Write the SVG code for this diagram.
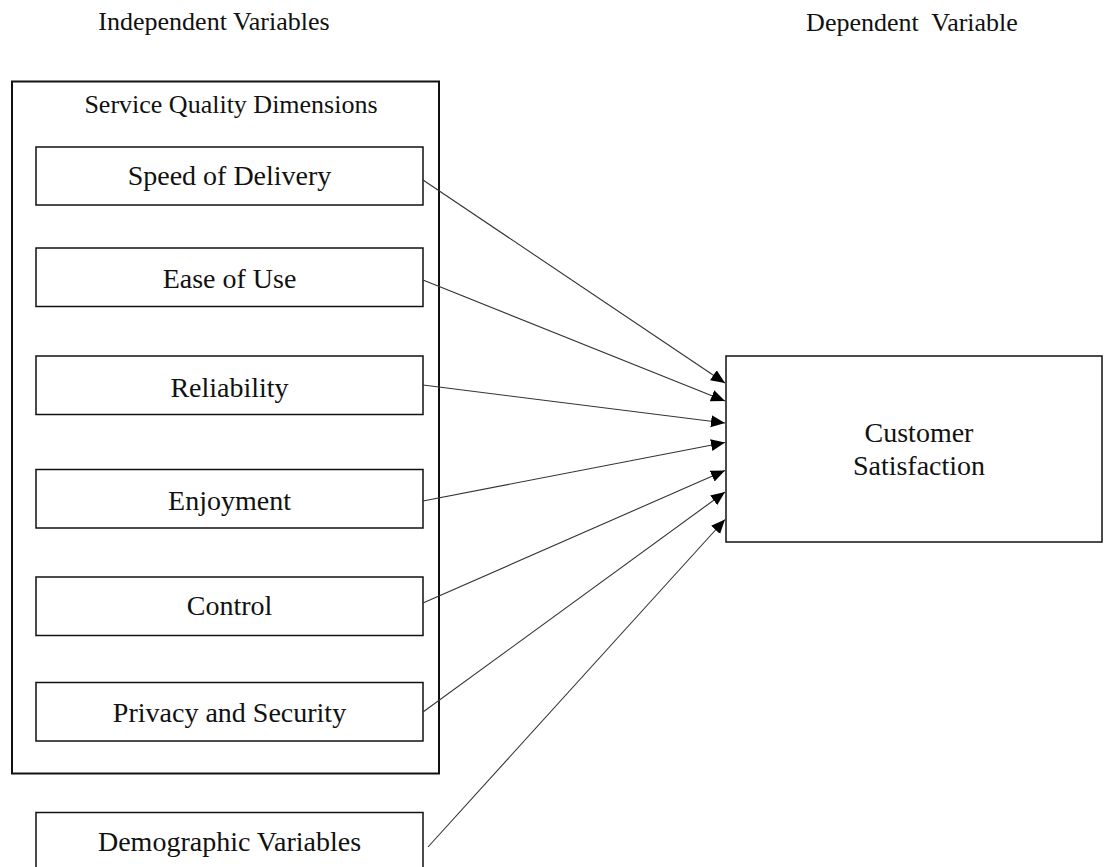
<svg xmlns="http://www.w3.org/2000/svg" width="1104" height="867" viewBox="0 0 1104 867">
<style>
text{font-family:"Liberation Serif","Times New Roman",serif;fill:#111;text-anchor:middle}
.hdr{font-size:26px;white-space:pre}
.lbl{font-size:28px}
.box{fill:#fff;stroke:#111;stroke-width:1.5}
.outer{fill:none;stroke:#111;stroke-width:2}
.conn{stroke:#333;stroke-width:1.1;fill:none;marker-end:url(#ah)}
</style>
<defs>
<marker id="ah" markerUnits="userSpaceOnUse" markerWidth="15" markerHeight="13" refX="14" refY="6" orient="auto">
<path d="M0,0 L14,6 L0,12 z" fill="#000"/>
</marker>
</defs>
<rect width="1104" height="867" fill="#fff"/>
<text class="hdr" x="214" y="30">Independent Variables</text>
<text class="hdr" x="912" y="31">Dependent  Variable</text>
<g id="service-quality-dimensions">
<rect class="outer" x="12" y="81.5" width="427" height="692"/>
<text class="hdr" x="231" y="113">Service Quality Dimensions</text>
</g>
<g id="speed-of-delivery">
<rect class="box" x="36" y="147" width="387" height="58"/>
<text class="lbl" x="229.5" y="185">Speed of Delivery</text>
</g>
<g id="ease-of-use">
<rect class="box" x="36" y="248" width="387" height="58.5"/>
<text class="lbl" x="229.5" y="288">Ease of Use</text>
</g>
<g id="reliability">
<rect class="box" x="36" y="356" width="387" height="58.5"/>
<text class="lbl" x="229.5" y="396.5">Reliability</text>
</g>
<g id="enjoyment">
<rect class="box" x="36" y="469.5" width="387" height="58.5"/>
<text class="lbl" x="229.5" y="510">Enjoyment</text>
</g>
<g id="control">
<rect class="box" x="36" y="577" width="387" height="58.5"/>
<text class="lbl" x="229.5" y="615">Control</text>
</g>
<g id="privacy-and-security">
<rect class="box" x="36" y="682.5" width="387" height="58.5"/>
<text class="lbl" x="229.5" y="721.5">Privacy and Security</text>
</g>
<g id="demographic-variables">
<rect class="box" x="36" y="812.5" width="387" height="58.5"/>
<text class="lbl" x="229.5" y="851">Demographic Variables</text>
</g>
<g id="customer-satisfaction">
<rect class="box" x="726" y="356" width="376" height="186"/>
<text class="lbl" x="919" y="442">Customer</text>
<text class="lbl" x="919" y="475">Satisfaction</text>
</g>
<g id="connectors">
<line class="conn" x1="423" y1="180" x2="725" y2="383"/>
<line class="conn" x1="423" y1="280" x2="725" y2="401"/>
<line class="conn" x1="423" y1="385" x2="725" y2="423"/>
<line class="conn" x1="423" y1="501" x2="725" y2="442.5"/>
<line class="conn" x1="423" y1="603" x2="725" y2="470.5"/>
<line class="conn" x1="423" y1="712" x2="725" y2="492"/>
<line class="conn" x1="428" y1="847" x2="725" y2="519.5"/>
</g>
</svg>
